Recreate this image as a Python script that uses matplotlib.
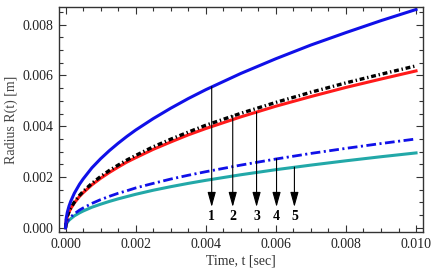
import matplotlib.pyplot as plt
from matplotlib.ticker import MultipleLocator, FormatStrFormatter

plt.rcParams["font.family"] = ["Liberation Serif", "DejaVu Serif"]
plt.rcParams["lines.scale_dashes"] = False

# values
t = [0, 0.00002, 0.00005, 0.0001, 0.00015, 0.00025, 0.0004, 0.0005, 0.00075, 0.001,
     0.00125, 0.0015, 0.00175, 0.002, 0.0025, 0.003, 0.0035, 0.004, 0.005, 0.006,
     0.007, 0.008, 0.009, 0.01]
r_blue = [0, .00038, .00061, .00086, .00105, .00136, .00172, .00192, .00236, .00272,
          .00304, .00333, .00360, .00385, .00430, .00471, .00509, .00544, .00608, .00666,
          .00720, .00769, .00816, .00860]
r_black = [0, .00029, .00045, .00064, .00078, .00101, .00128, .00143, .00175, .00202,
           .00226, .00247, .00267, .00285, .00319, .00349, .00377, .00404, .00451, .00494,
           .00534, .00571, .00605, .00638]
r_red = [0, .00028, .00044, .00062, .00076, .00098, .00124, .00138, .00169, .00195,
         .00218, .00239, .00259, .00276, .00309, .00338, .00366, .00391, .00437, .00479,
         .00517, .00553, .00586, .00618]
r_bluedash = [0, .00016, .00025, .00035, .00043, .00055, .00070, .00078, .00096, .00111,
              .00124, .00136, .00146, .00157, .00175, .00192, .00207, .00221, .00247, .00271,
              .00293, .00313, .00332, .00350]
r_teal = [0, .00013, .00021, .00030, .00036, .00047, .00059, .00066, .00081, .00093,
          .00104, .00114, .00123, .00132, .00148, .00162, .00175, .00187, .00209, .00229,
          .00247, .00264, .00280, .00295]

# arrows: label, x position, start on the curve, tip
arrow_labels = ["1", "2", "3", "4", "5"]
arrow_t = [0.00417, 0.00477, 0.00545, 0.00602, 0.00653]
arrow_start = [0.00556, 0.00442, 0.00456, 0.00272, 0.00239]
arrow_tip = 0.00082
label_y = 0.00044

fig = plt.figure(figsize=(4.33, 2.78), dpi=100)
ax = fig.add_axes([0.136, 0.165, 0.841, 0.81])

ax.plot(t, r_teal, color="#22a8a8", lw=2.2)
ax.plot(t, r_bluedash, color="#1010e8", lw=2.0, dashes=(7, 2.5, 1.5, 2.5))
ax.plot(t, r_red, color="#ff1a1a", lw=2.2)
ax.plot(t, r_black, color="black", lw=2.4, dashes=(3.5, 2, 1, 2))
ax.plot(t, r_blue, color="#1010e8", lw=2.2)

for lab, x, y0 in zip(arrow_labels, arrow_t, arrow_start):
    ax.annotate("", xy=(x, arrow_tip), xytext=(x, y0),
                arrowprops=dict(arrowstyle="-|>,head_length=0.9,head_width=0.25",
                                color="black", lw=0.8, shrinkA=0, shrinkB=0))
    ax.text(x, label_y, lab, ha="center", va="center", fontsize=10,
            fontweight="bold", color="black")

ax.set_xlim(-0.00019, 0.0102)
ax.set_ylim(-0.00017, 0.0087)
ax.xaxis.set_major_locator(MultipleLocator(0.002))
ax.xaxis.set_minor_locator(MultipleLocator(0.0005))
ax.yaxis.set_major_locator(MultipleLocator(0.002))
ax.yaxis.set_minor_locator(MultipleLocator(0.0005))
ax.xaxis.set_major_formatter(FormatStrFormatter("%.3f"))
ax.yaxis.set_major_formatter(FormatStrFormatter("%.3f"))
ax.tick_params(which="both", direction="in", top=True, right=True,
               color="#333333", width=0.8, labelsize=10, labelcolor="#222222")
ax.tick_params(which="major", length=5, pad=4)
ax.tick_params(which="minor", length=3)
for s in ax.spines.values():
    s.set_color("#333333")
    s.set_linewidth(1.0)

ax.set_xlabel("Time, t [sec]", fontsize=10, color="#333333", labelpad=3)
ax.set_ylabel("Radius R(t) [m]", fontsize=10, color="#444444", labelpad=3)

fig.savefig("out.png", dpi=100)
